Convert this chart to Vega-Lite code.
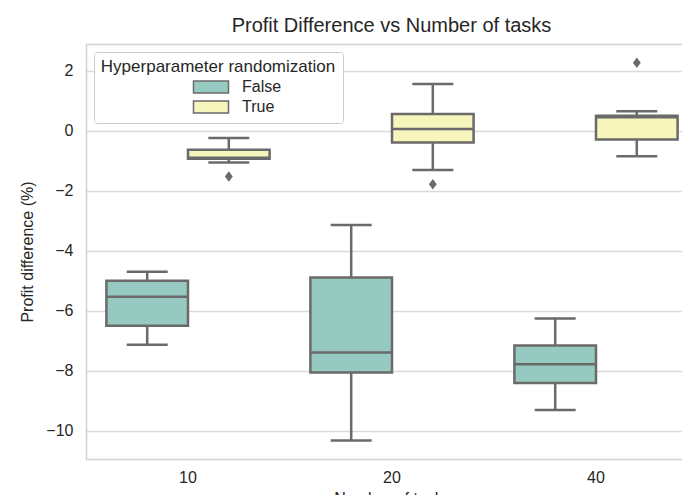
{
  "$schema": "https://vega.github.io/schema/vega-lite/v6.json",
  "width": 596,
  "height": 415,
  "autosize": {"type": "none"},
  "padding": {"left": 86, "top": 44, "right": 0, "bottom": 36},
  "background": "white",
  "title": {
    "text": "Profit Difference vs Number of tasks",
    "fontSize": 20,
    "font": "Liberation Sans",
    "fontWeight": "normal",
    "color": "#262626",
    "anchor": "middle",
    "dx": 7.5,
    "offset": 8
  },
  "datasets": {
    "boxes": [
      {"tasks": "10", "hyper": "False", "lower": -7.13, "q1": -6.5, "median": -5.53, "q3": -5.0, "upper": -4.7},
      {"tasks": "20", "hyper": "False", "lower": -10.32, "q1": -8.06, "median": -7.39, "q3": -4.89, "upper": -3.14},
      {"tasks": "40", "hyper": "False", "lower": -9.31, "q1": -8.41, "median": -7.78, "q3": -7.16, "upper": -6.26},
      {"tasks": "10", "hyper": "True", "lower": -1.06, "q1": -0.93, "median": -0.9, "q3": -0.63, "upper": -0.24},
      {"tasks": "20", "hyper": "True", "lower": -1.31, "q1": -0.39, "median": 0.06, "q3": 0.56, "upper": 1.56},
      {"tasks": "40", "hyper": "True", "lower": -0.85, "q1": -0.29, "median": 0.45, "q3": 0.5, "upper": 0.65}
    ],
    "outliers": [
      {"tasks": "10", "hyper": "True", "value": -1.52},
      {"tasks": "20", "hyper": "True", "value": -1.78},
      {"tasks": "40", "hyper": "True", "value": 2.27}
    ]
  },
  "config": {
    "font": "Liberation Sans",
    "view": {"stroke": null},
    "axis": {
      "labelFont": "Liberation Sans",
      "titleFont": "Liberation Sans",
      "labelFontSize": 16,
      "titleFontSize": 16,
      "titleFontWeight": "normal",
      "labelColor": "#262626",
      "titleColor": "#262626",
      "ticks": false,
      "tickSize": 0,
      "domainColor": "#d0d0d0",
      "domainWidth": 1.5,
      "gridColor": "#d9d9d9",
      "gridWidth": 1.3
    },
    "legend": {
      "labelFont": "Liberation Sans",
      "titleFont": "Liberation Sans"
    }
  },
  "resolve": {"axis": {"x": "independent"}},
  "layer": [
    {
      "data": {"name": "boxes"},
      "mark": {"type": "rule", "stroke": "#6a6a6a", "strokeWidth": 2.5},
      "encoding": {
        "x": {"field": "tasks", "type": "nominal", "scale": {"type": "band", "domain": ["10", "20", "40"], "range": [0, 612], "paddingInner": 0, "paddingOuter": 0},
          "axis": {"orient": "top", "labels": false, "title": null, "domain": true, "grid": false, "ticks": false}},
        "xOffset": {"field": "hyper", "type": "nominal", "scale": {"domain": ["False", "True"], "paddingOuter": 0.25, "paddingInner": 0}},
        "y": {"field": "lower", "type": "quantitative",
          "scale": {"domain": [-10.94, 2.894], "nice": false, "zero": false},
          "axis": {"title": "Profit difference (%)", "values": [-10, -8, -6, -4, -2, 0, 2], "grid": true, "domain": true, "labelPadding": 13, "titlePadding": 10}},
        "y2": {"field": "upper"}
      }
    },
    {
      "data": {"name": "boxes"},
      "mark": {"type": "bar", "stroke": "#6a6a6a", "strokeWidth": 2.5},
      "encoding": {
        "x": {"field": "tasks", "type": "nominal", "scale": {"type": "band", "domain": ["10", "20", "40"], "range": [0, 612], "paddingInner": 0, "paddingOuter": 0},
          "axis": {"orient": "bottom", "title": "Number of tasks", "labelAngle": 0, "labelPadding": 10, "titlePadding": 5, "grid": false, "domain": true}},
        "xOffset": {"field": "hyper", "type": "nominal", "scale": {"domain": ["False", "True"], "paddingOuter": 0.25, "paddingInner": 0}},
        "y": {"field": "q1", "type": "quantitative",
          "scale": {"domain": [-10.94, 2.894], "nice": false, "zero": false},
          "axis": {"title": "Profit difference (%)", "values": [-10, -8, -6, -4, -2, 0, 2], "grid": true, "domain": true, "labelPadding": 13, "titlePadding": 10}},
        "y2": {"field": "q3"},
        "color": {
          "field": "hyper", "type": "nominal",
          "scale": {"domain": ["False", "True"], "range": ["#96cac1", "#f5f5bc"]},
          "legend": {
            "title": "Hyperparameter randomization",
            "orient": "top-left",
            "offset": 8,
            "padding": 7,
            "fillColor": "white",
            "strokeColor": "#cccccc",
            "cornerRadius": 3,
            "titleFontSize": 17,
            "titleFontWeight": "normal",
            "titleColor": "#262626",
            "titleAnchor": "middle",
            "titleAlign": "center",
            "titleLimit": 500,
            "titlePadding": 3,
            "labelFontSize": 16,
            "labelColor": "#262626",
            "labelLimit": 200,
            "symbolType": "M-2.917,-1H2.917V1H-2.917Z",
            "symbolSize": 144,
            "symbolStrokeColor": "#6a6a6a",
            "symbolStrokeWidth": 1.5,
            "symbolOpacity": 1,
            "symbolOffset": 48,
            "labelOffset": 23,
            "rowPadding": 2
          }
        }
      }
    },
    {
      "data": {"name": "boxes"},
      "mark": {"type": "tick", "color": "#6a6a6a", "size": 81, "thickness": 2.5, "opacity": 1},
      "encoding": {
        "x": {"field": "tasks", "type": "nominal", "scale": {"type": "band", "domain": ["10", "20", "40"], "range": [0, 612], "paddingInner": 0, "paddingOuter": 0}, "axis": null},
        "xOffset": {"field": "hyper", "type": "nominal", "scale": {"domain": ["False", "True"], "paddingOuter": 0.25, "paddingInner": 0}},
        "y": {"field": "median", "type": "quantitative",
          "axis": {"title": "Profit difference (%)", "values": [-10, -8, -6, -4, -2, 0, 2], "grid": true, "domain": true, "labelPadding": 13, "titlePadding": 10}}
      }
    },
    {
      "data": {"name": "boxes"},
      "mark": {"type": "tick", "color": "#6a6a6a", "size": 41, "thickness": 2.5, "opacity": 1},
      "encoding": {
        "x": {"field": "tasks", "type": "nominal", "scale": {"type": "band", "domain": ["10", "20", "40"], "range": [0, 612], "paddingInner": 0, "paddingOuter": 0}, "axis": null},
        "xOffset": {"field": "hyper", "type": "nominal", "scale": {"domain": ["False", "True"], "paddingOuter": 0.25, "paddingInner": 0}},
        "y": {"field": "lower", "type": "quantitative",
          "axis": {"title": "Profit difference (%)", "values": [-10, -8, -6, -4, -2, 0, 2], "grid": true, "domain": true, "labelPadding": 13, "titlePadding": 10}}
      }
    },
    {
      "data": {"name": "boxes"},
      "mark": {"type": "tick", "color": "#6a6a6a", "size": 41, "thickness": 2.5, "opacity": 1},
      "encoding": {
        "x": {"field": "tasks", "type": "nominal", "scale": {"type": "band", "domain": ["10", "20", "40"], "range": [0, 612], "paddingInner": 0, "paddingOuter": 0}, "axis": null},
        "xOffset": {"field": "hyper", "type": "nominal", "scale": {"domain": ["False", "True"], "paddingOuter": 0.25, "paddingInner": 0}},
        "y": {"field": "upper", "type": "quantitative",
          "axis": {"title": "Profit difference (%)", "values": [-10, -8, -6, -4, -2, 0, 2], "grid": true, "domain": true, "labelPadding": 13, "titlePadding": 10}}
      }
    },
    {
      "data": {"name": "outliers"},
      "mark": {"type": "point", "shape": "M0,-1L0.75,0L0,1L-0.75,0Z", "size": 110, "filled": true, "color": "#6a6a6a", "opacity": 1},
      "encoding": {
        "x": {"field": "tasks", "type": "nominal", "scale": {"type": "band", "domain": ["10", "20", "40"], "range": [0, 612], "paddingInner": 0, "paddingOuter": 0}, "axis": null},
        "xOffset": {"field": "hyper", "type": "nominal", "scale": {"domain": ["False", "True"], "paddingOuter": 0.25, "paddingInner": 0}},
        "y": {"field": "value", "type": "quantitative",
          "axis": {"title": "Profit difference (%)", "values": [-10, -8, -6, -4, -2, 0, 2], "grid": true, "domain": true, "labelPadding": 13, "titlePadding": 10}}
      }
    }
  ]
}
